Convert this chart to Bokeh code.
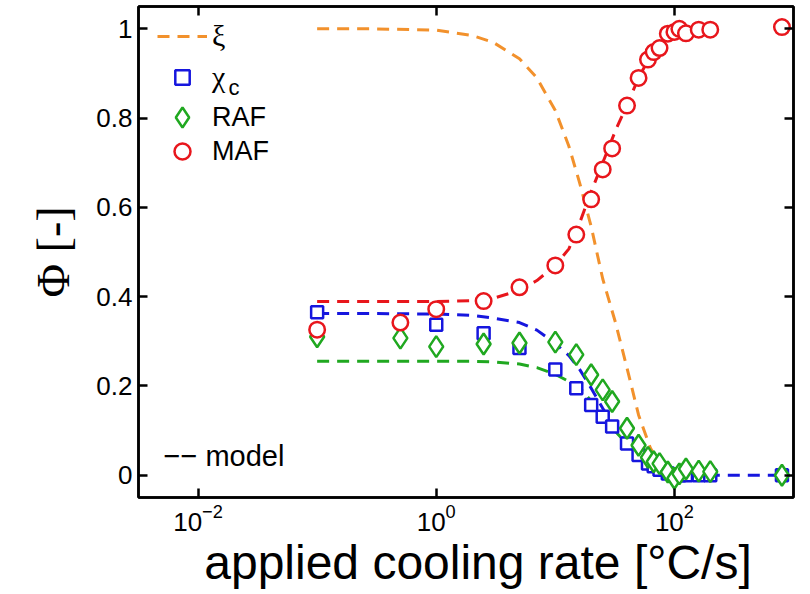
from bokeh.embed import file_html
from bokeh.models import (ColumnDataSource, CustomJSTickFormatter, FixedTicker,
                          Label, Legend, LegendItem, LinearAxis, LogAxis, Range1d)
from bokeh.plotting import figure
from bokeh.resources import INLINE

nan = float("nan")

# measured fractions vs. applied cooling rate [°C/s]
rate = [0.1, 0.5, 1, 2.5, 5, 10, 15, 20, 25, 30, 40, 50, 60, 67, 75, 88, 100,
        110, 125, 160, 200, 800]
maf = [0.326, 0.342, 0.372, 0.390, 0.421, 0.470, 0.539, 0.618, 0.685, 0.732,
       0.828, 0.890, 0.931, 0.948, 0.957, 0.989, 0.993, 1.000, 0.990, 0.998,
       0.998, 1.004]
raf = [0.310, 0.307, 0.288, 0.294, 0.296, 0.298, 0.270, 0.225, 0.191, 0.165,
       0.105, 0.067, 0.040, 0.030, 0.026, 0.007, -0.007, 0.003, 0.014, 0.009,
       0.008, 0.000]
chi_c = [0.365, nan, 0.337, 0.318, 0.285, 0.237, 0.195, 0.157, 0.131, 0.109,
         0.071, 0.045, 0.026, 0.020, 0.012, 0.004, 0.002, 0.000, 0.000, 0.000,
         0.000, 0.000]

# model curves
model_rate = [0.1, 0.3, 1, 2, 3, 5, 7, 10, 13, 16, 20, 25, 32, 40, 50, 63, 80,
              100, 130, 160, 200, 400, 800]
xi_model = [1.0, 1.0, 0.997, 0.985, 0.970, 0.933, 0.890, 0.817, 0.737, 0.655,
            0.557, 0.440, 0.342, 0.240, 0.135, 0.060, 0.016, 0.005, 0.001, 0.0,
            0.0, nan, nan]
maf_model = [0.389, 0.389, 0.389, 0.391, 0.396, 0.414, 0.436, 0.470, 0.507,
             0.565, 0.635, 0.700, 0.772, 0.830, 0.890, 0.940, 0.975, 0.990,
             0.997, 1.0, 1.0, nan, nan]
chi_model = [0.362, 0.362, 0.361, 0.358, 0.352, 0.342, 0.325, 0.295, 0.268,
             0.237, 0.195, 0.150, 0.105, 0.070, 0.040, 0.020, 0.008, 0.003,
             0.001, 0.0, 0.0, 0.0, 0.0]
raf_model = [0.255, 0.255, 0.255, 0.255, 0.254, 0.249, 0.241, 0.226, 0.210,
             0.196, 0.166, 0.134, 0.098, 0.070, 0.044, 0.016, 0.006, 0.001,
             0.0, 0.0, 0.0, nan, nan]

x_ticks = [0.01, 1, 100]
y_ticks = [0, 0.2, 0.4, 0.6, 0.8, 1]

ORANGE = "#F2912C"
RED = "#E8161C"
BLUE = "#1616DE"
GREEN = "#20A820"
SANS = "Liberation Sans"
SERIF = "Liberation Serif"

meas = ColumnDataSource(dict(rate=rate, maf=maf, raf=raf, chi_c=chi_c))
model = ColumnDataSource(dict(rate=model_rate, xi=xi_model, maf=maf_model,
                              chi=chi_model, raf=raf_model))

p = figure(width=810, height=594, x_axis_type="log",
           x_range=Range1d(10 ** -2.5, 1000), y_range=Range1d(-0.05, 1.05),
           output_backend="svg", toolbar_location=None,
           min_border_left=138, min_border_right=17,
           min_border_top=6, min_border_bottom=97,
           background_fill_color="white", border_fill_color="white")
p.xgrid.visible = False
p.ygrid.visible = False
p.outline_line_color = "black"
p.outline_line_width = 2.5

dash = "12 8"
xi_line = p.line("rate", "xi", source=model, color=ORANGE, line_width=3, line_dash=dash)
p.line("rate", "maf", source=model, color=RED, line_width=3, line_dash=dash)
p.line("rate", "raf", source=model, color=GREEN, line_width=3, line_dash=dash)
p.line("rate", "chi", source=model, color=BLUE, line_width=3, line_dash=dash)

sq = p.scatter("rate", "chi_c", source=meas, marker="square", size=12,
               line_color=BLUE, line_width=2.5, fill_color="white")
dia = p.scatter("rate", "raf", source=meas, marker="diamond", size=21,
                line_color=GREEN, line_width=2.5, fill_color="white")
circ = p.scatter("rate", "maf", source=meas, marker="circle", size=15.5,
                 line_color=RED, line_width=2.5, fill_color="white")

# axes: inward ticks, mirrored on top and right
xa = p.xaxis[0]
ya = p.yaxis[0]
xa.ticker = FixedTicker(ticks=x_ticks)
ya.ticker = FixedTicker(ticks=y_ticks)
ya.formatter = CustomJSTickFormatter(code="return String(Math.round(tick*10)/10)")

top = LogAxis(ticker=FixedTicker(ticks=x_ticks),
              major_label_overrides={t: "" for t in x_ticks})
right = LinearAxis(ticker=FixedTicker(ticks=y_ticks),
                   major_label_overrides={t: "" for t in y_ticks})
p.add_layout(top, "above")
p.add_layout(right, "right")

for ax in (xa, ya, top, right):
    ax.axis_line_width = 2.5
    ax.axis_line_color = "black"
    ax.major_tick_in = 9
    ax.major_tick_out = 0
    ax.major_tick_line_width = 2.5
    ax.minor_tick_line_color = None
    ax.major_label_text_font = SANS
    ax.major_label_text_font_size = "26px"
    ax.major_label_text_color = "black"
    ax.major_label_standoff = 6

top.major_label_text_font_size = "1px"
right.major_label_text_font_size = "1px"

xa.axis_label = "\u2002applied cooling rate [°C/s]"
xa.axis_label_text_font = SANS
xa.axis_label_text_font_size = "48px"
xa.axis_label_text_font_style = "normal"
xa.axis_label_text_color = "black"
xa.axis_label_standoff = 2

ya.axis_label = "Φ [-]"
ya.axis_label_text_font = SERIF
ya.axis_label_text_font_size = "46px"
ya.axis_label_text_font_style = "normal"
ya.axis_label_text_color = "black"
ya.axis_label_standoff = 14

FRAME_BOTTOM = 497  # frame bottom edge on the canvas, px
GLYPH_LEFT = 19     # legend glyphs start this far right of the frame edge


def legend_entry(label, renderer, center_y, glyph_h, font, font_size):
    """One legend row whose glyph box height sets the marker size."""
    return Legend(items=[LegendItem(label=label, renderers=[renderer])],
                  location=(GLYPH_LEFT, FRAME_BOTTOM - center_y - glyph_h // 2),
                  margin=0, padding=0, spacing=0,
                  glyph_width=50, glyph_height=glyph_h, label_height=glyph_h,
                  label_standoff=5, label_text_font=font,
                  label_text_font_size=font_size, label_text_color="black",
                  label_text_baseline="middle",
                  border_line_color=None, background_fill_alpha=0.0)


p.add_layout(legend_entry("ξ", xi_line, 38, 30, SERIF, "30px"))
p.add_layout(legend_entry("χ", sq, 77, 36, SERIF, "30px"))
p.add_layout(legend_entry("RAF", dia, 117, 52, SANS, "27px"))
p.add_layout(legend_entry("MAF", circ, 151, 40, SANS, "27px"))

# subscript of the chi label
p.add_layout(Label(x=10 ** -1.744, y=0.8686, text="c", text_font=SANS,
                   text_font_size="22px", text_baseline="middle",
                   text_align="left", text_color="black"))

p.add_layout(Label(x=10 ** -2.29, y=0.044, text="−− model", text_font=SANS,
                   text_font_size="29px", text_baseline="middle",
                   text_align="left", text_color="black"))

open("out.html", "w").write(file_html(p, INLINE))
